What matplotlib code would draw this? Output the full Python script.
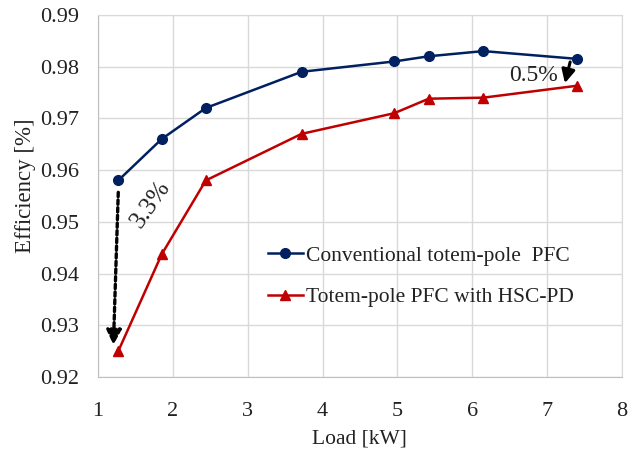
import matplotlib
matplotlib.use("Agg")
from matplotlib import pyplot as plt

plt.rcParams['font.family'] = ['Liberation Serif', 'DejaVu Serif']

load = [1.27, 1.85, 2.44, 3.72, 4.96, 5.42, 6.15, 7.40]
eff_conv = [0.958, 0.966, 0.972, 0.979, 0.981, 0.982, 0.983, 0.9815]
eff_hsc = [0.925, 0.9437, 0.958, 0.967, 0.971, 0.9738, 0.974, 0.9763]

x_ticks = [1, 2, 3, 4, 5, 6, 7, 8]
y_ticks = [0.92, 0.93, 0.94, 0.95, 0.96, 0.97, 0.98, 0.99]

fig = plt.figure(figsize=(6.41, 4.51), dpi=100)
ax = fig.add_axes([0.153, 0.164, 0.817, 0.803])

ax.plot(load, eff_conv, color='#002060', marker='o', markersize=7,
        linewidth=1.8, label='Conventional totem-pole  PFC', zorder=3)
ax.plot(load, eff_hsc, color='#C00000', marker='^', markersize=7.5,
        linewidth=1.8, label='Totem-pole PFC with HSC-PD', zorder=3)

ax.set_xlim(1, 8)
ax.set_ylim(0.92, 0.99)
ax.set_xticks(x_ticks)
ax.set_yticks(y_ticks)
ax.set_yticklabels([f'{v:.2f}' for v in y_ticks])
ax.tick_params(axis='both', length=0, labelsize=16, colors='#222222')
ax.tick_params(axis='y', pad=14)
ax.tick_params(axis='x', pad=18)
ax.grid(True, color='#d9d9d9', linewidth=1)
for s in ax.spines.values():
    s.set_color('#d9d9d9')
ax.spines['left'].set_color('#bfbfbf')
ax.spines['bottom'].set_color('#bfbfbf')

ax.set_xlabel('Load [kW]', fontsize=15.5, color='#222222', labelpad=6)
ax.set_ylabel('Efficiency [%]', fontsize=16.5, color='#222222')
ax.yaxis.set_label_coords(-0.118, 0.528)

# drop annotations
ax.annotate('', xy=(1.205, 0.9262), xytext=(1.27, 0.9557),
            arrowprops=dict(arrowstyle='-|>', color='black', lw=2.4,
                            linestyle=(0, (1.3, 1.0)), mutation_scale=22,
                            shrinkA=0, shrinkB=0))
ax.text(1.70, 0.9535, '3.3%', fontsize=18, rotation=55,
        ha='center', va='center', color='#222222')

ax.annotate('', xy=(7.24, 0.9768), xytext=(7.31, 0.9809),
            arrowprops=dict(arrowstyle='-|>', color='black', lw=2.2,
                            mutation_scale=20, shrinkA=0, shrinkB=0))
ax.text(6.82, 0.9783, '0.5%', fontsize=17, ha='center', va='center',
        color='#222222')

leg = ax.legend(loc='center left', bbox_to_anchor=(0.325, 0.2775),
                borderaxespad=0, borderpad=0,
                fontsize=15.5, frameon=False, handlelength=1.6,
                handletextpad=0.15, labelspacing=1.0)
for t in leg.get_texts():
    t.set_color('#222222')

fig.savefig('out.png', dpi=100)
